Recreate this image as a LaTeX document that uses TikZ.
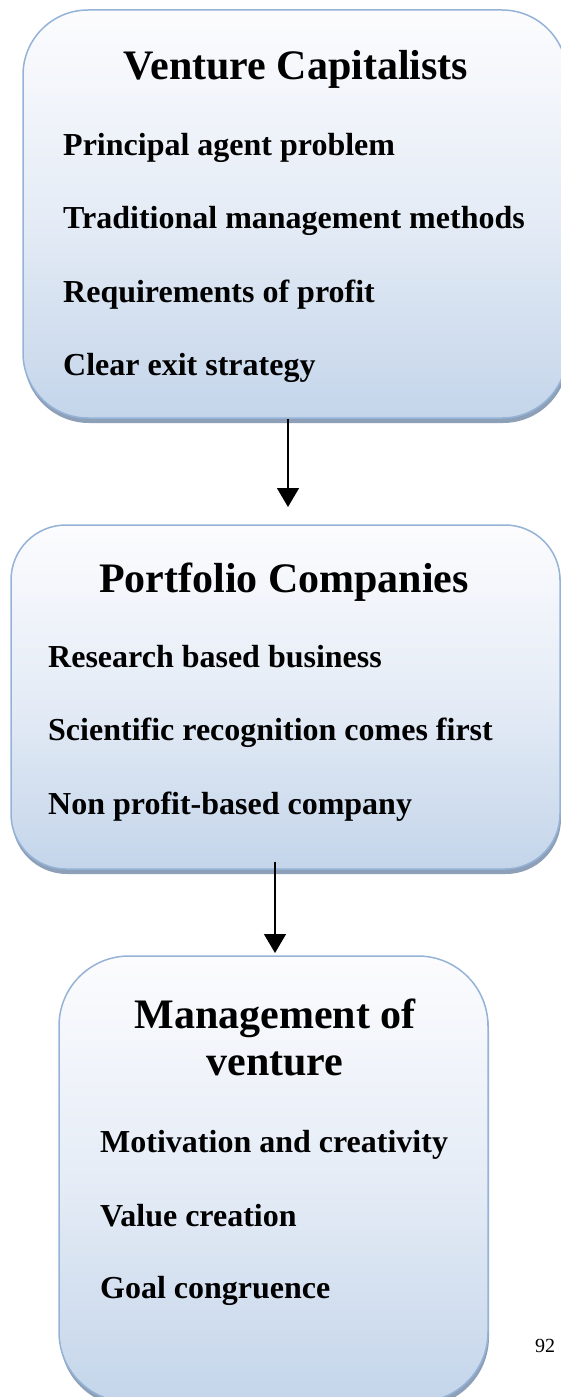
\documentclass[tikz,border=0pt]{standalone}
\usepackage{fontspec}
\setmainfont{Liberation Serif}
\usetikzlibrary{arrows.meta,calc,shadows}
\definecolor{paneltop}{RGB}{252,252,254}
\definecolor{panelmid}{RGB}{229,236,246}
\definecolor{panelbottom}{RGB}{196,213,234}
\definecolor{panelline}{RGB}{149,179,215}
\definecolor{panelshadow}{RGB}{142,160,184}
\begin{document}
\begin{tikzpicture}[x=1pt,y=-1pt,
  panel/.style={draw=panelline,line width=1.5pt,rounded corners=#1,inner sep=0pt,
    top color=paneltop,bottom color=panelbottom,middle color=panelmid,
    drop shadow={shadow xshift=1pt,shadow yshift=-5pt,fill=panelshadow,opacity=1}},
  heading/.style={anchor=base,inner sep=0pt,font=\fontsize{42}{47}\selectfont\bfseries},
  item/.style={anchor=base west,inner sep=0pt,font=\fontsize{32}{38}\selectfont\bfseries},
  link/.style={line width=1.3pt,-{Triangle[width=22pt,length=19pt]}}]
\useasboundingbox (0,0) rectangle (561,1397);
\fill[white] (0,0) rectangle (561,1397);
% venture capitalists
\node[panel=65pt,minimum width=544pt,minimum height=408pt] (vc) at (295,214) {};
\node[heading] (vctitle) at (296,80) {Venture Capitalists};
\node[item] (vc1) at (63,155) {Principal agent problem};
\node[item] (vc2) at (63,228) {Traditional management methods};
\node[item] (vc3) at (63,302) {Requirements of profit};
\node[item] (vc4) at (63,375) {Clear exit strategy};
% portfolio companies
\node[panel=55pt,minimum width=549pt,minimum height=344pt] (pc) at (285.5,697) {};
\node[heading] (pctitle) at (284,592) {Portfolio Companies};
\node[item] (pc1) at (48,667) {Research based business};
\node[item] (pc2) at (48,740) {Scientific recognition comes first};
\node[item] (pc3) at (48,814) {Non profit-based company};
% management of venture
\node[panel=70pt,minimum width=429pt,minimum height=446pt] (mv) at (273.5,1179) {};
\node[heading] (mvtitle) at (275,1028) {Management of};
\node[heading] (mvtitleb) at (275,1075) {venture};
\node[item] (mv1) at (100,1152) {Motivation and creativity};
\node[item] (mv2) at (100,1226) {Value creation};
\node[item] (mv3) at (100,1298) {Goal congruence};
% arrows
\coordinate (tip1) at (288,507);
\draw[link] (vc.south -| tip1) -- (tip1);
\coordinate (tip2) at (275,953);
\draw[link] ($(pc.south -| tip2)+(0,-8)$) -- (tip2);
%\draw[link] (pc.south) -- (mv.north);
\node[anchor=base,inner sep=0pt,font=\fontsize{20}{24}\selectfont] (pagenum) at (545,1352) {92};
\end{tikzpicture}
\end{document}
